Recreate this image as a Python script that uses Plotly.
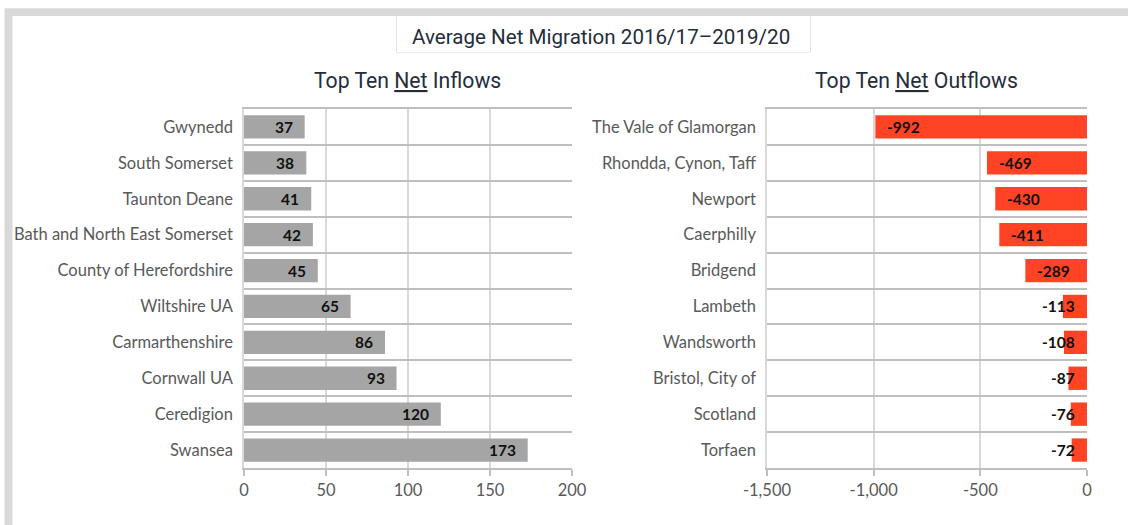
import plotly.graph_objects as go

# Average net migration 2016/17-2019/20
inflow_areas = ["Gwynedd", "South Somerset", "Taunton Deane", "Bath and North East Somerset",
                "County of Herefordshire", "Wiltshire UA", "Carmarthenshire", "Cornwall UA",
                "Ceredigion", "Swansea"]
inflow_values = [37, 38, 41, 42, 45, 65, 86, 93, 120, 173]

outflow_areas = ["The Vale of Glamorgan", "Rhondda, Cynon, Taff", "Newport", "Caerphilly",
                 "Bridgend", "Lambeth", "Wandsworth", "Bristol, City of", "Scotland", "Torfaen"]
outflow_values = [-992, -469, -430, -411, -289, -113, -108, -87, -76, -72]

inflow_ticks = [0, 50, 100, 150, 200]
outflow_ticks = [-1500, -1000, -500, 0]
outflow_tick_text = ["-1,500", "-1,000", "-500", "0"]

W, H = 1128, 525
GREY_BAR = "#a5a5a5"
RED_BAR = "#ff4324"
LABEL = "#595959"
TITLE = "#252d3b"
BOUNDARY = "#bfbfbf"
GRID = "#d9d9d9"

left_dom = [244 / W, 572 / W]
right_dom = [767 / W, 1087 / W]
y_dom = [1 - 468 / H, 1 - 109 / H]

fig = go.Figure()
fig.add_trace(go.Bar(x=inflow_values, y=inflow_areas, orientation="h",
                     marker=dict(color=GREY_BAR, line=dict(width=0)),
                     width=0.65, xaxis="x", yaxis="y", hoverinfo="x+y"))
fig.add_trace(go.Bar(x=outflow_values, y=outflow_areas, orientation="h",
                     marker=dict(color=RED_BAR, line=dict(width=0)),
                     width=0.65, xaxis="x2", yaxis="y2", hoverinfo="x+y"))

value_font = dict(family="Lato", size=15.5, color="#111111")
annotations = []
PAD = 10
# inflow labels sit just inside the end of each bar
for area, v in zip(inflow_areas, inflow_values):
    annotations.append(dict(x=v, y=area, xref="x", yref="y", text=f"<b>{v}</b>",
                            showarrow=False, xanchor="right", xshift=-PAD, font=value_font))
# outflow labels sit inside the bar end; short bars keep the label against the zero line
px_per_unit = (right_dom[1] - right_dom[0]) * W / 1500
for area, v in zip(outflow_areas, outflow_values):
    txt = str(v)
    txt_w = len(txt) * 9
    if abs(v) * px_per_unit >= txt_w + 2 * PAD + 4:
        annotations.append(dict(x=v, y=area, xref="x2", yref="y2", text=f"<b>{txt}</b>",
                                showarrow=False, xanchor="left", xshift=PAD, font=value_font))
    else:
        annotations.append(dict(x=0, y=area, xref="x2", yref="y2", text=f"<b>{txt}</b>",
                                showarrow=False, xanchor="right", xshift=-PAD, font=value_font))

head_font = dict(family="Roboto", size=20.6, color=TITLE)
sub_font = dict(family="Roboto", size=21.2, color=TITLE)
annotations += [
    dict(x=600.5 / W, y=1 - 36.5 / H, xref="paper", yref="paper", showarrow=False,
         text="Average Net Migration 2016/17\u20132019/20", font=head_font,
         xanchor="center", yanchor="middle"),
    dict(x=407 / W, y=1 - 80 / H, xref="paper", yref="paper", showarrow=False,
         text="Top Ten <u>Net</u> Inflows", font=sub_font, xanchor="center", yanchor="middle"),
    dict(x=916.5 / W, y=1 - 80 / H, xref="paper", yref="paper", showarrow=False,
         text="Top Ten <u>Net</u> Outflows", font=sub_font, xanchor="center", yanchor="middle"),
]

def px(x):
    return x / W

def py(y):
    return 1 - y / H

shapes = [
    # light grey outer frame
    dict(type="rect", xref="paper", yref="paper", layer="below",
         x0=px(4.5), x1=px(W + 20), y0=py(H + 20), y1=py(8.3),
         fillcolor="#d9d9d9", line=dict(width=0)),
    dict(type="rect", xref="paper", yref="paper", layer="below",
         x0=px(12.5), x1=px(W + 20), y0=py(H + 20), y1=py(16),
         fillcolor="white", line=dict(width=0)),
    # title box
    dict(type="line", xref="paper", yref="paper", layer="below",
         x0=px(396.5), x1=px(396.5), y0=py(52.5), y1=py(16), line=dict(color="#e3e3e3", width=1)),
    dict(type="line", xref="paper", yref="paper", layer="below",
         x0=px(810.5), x1=px(810.5), y0=py(52.5), y1=py(16), line=dict(color="#e3e3e3", width=1)),
    dict(type="line", xref="paper", yref="paper", layer="below",
         x0=px(396.5), x1=px(810.5), y0=py(52.5), y1=py(52.5), line=dict(color="#ececec", width=1)),
]

tick_font = dict(family="Lato", size=16.5, color=LABEL)
xcommon = dict(showgrid=True, gridcolor=GRID, gridwidth=1.5, zeroline=False,
               showline=True, mirror=True, linecolor=BOUNDARY, linewidth=1.5,
               ticks="outside", ticklen=6, tickcolor=BOUNDARY, tickwidth=1.5,
               tickfont=tick_font, fixedrange=True, automargin=False)
ycommon = dict(type="category", autorange="reversed", tickson="boundaries",
               showgrid=True, gridcolor=BOUNDARY, gridwidth=1.5, zeroline=False,
               showline=True, linecolor=GRID, linewidth=1.5, ticks="", ticklabelstandoff=6,
               tickfont=tick_font, fixedrange=True, automargin=False)

fig.update_layout(
    width=W, height=H,
    margin=dict(l=0, r=0, t=0, b=0),
    paper_bgcolor="white", plot_bgcolor="rgba(0,0,0,0)",
    showlegend=False, bargap=0.35,
    xaxis=dict(domain=left_dom, range=[0, 200], tickvals=inflow_ticks, anchor="y", **xcommon),
    yaxis=dict(domain=y_dom, anchor="x", categoryarray=inflow_areas,
               categoryorder="array", **ycommon),
    xaxis2=dict(domain=right_dom, range=[-1500, 0], tickvals=outflow_ticks,
                ticktext=outflow_tick_text, anchor="y2", **xcommon),
    yaxis2=dict(domain=y_dom, anchor="x2", categoryarray=outflow_areas,
                categoryorder="array", **ycommon),
    annotations=annotations,
    shapes=shapes,
)

fig.write_html("out.html")
